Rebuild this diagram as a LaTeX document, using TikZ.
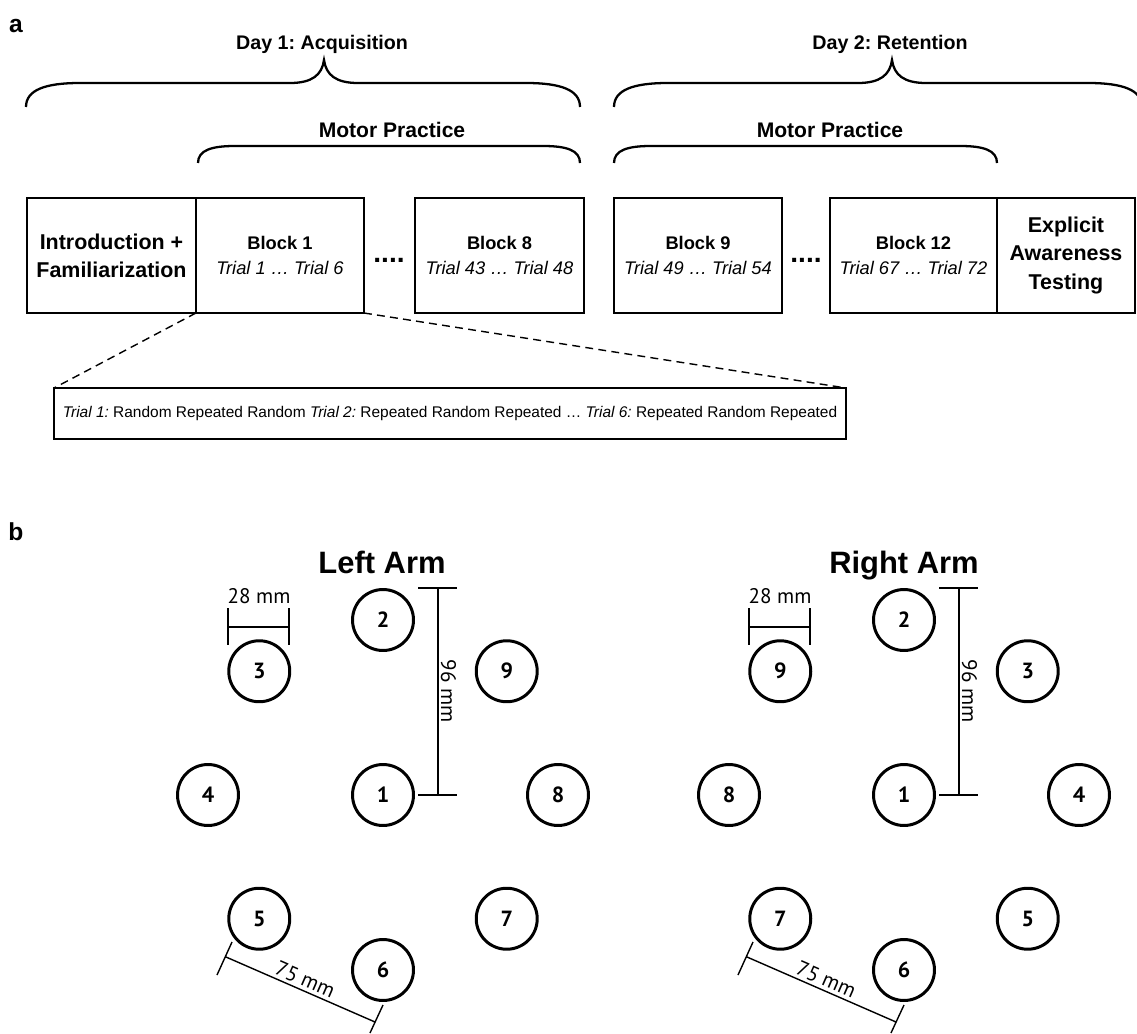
\documentclass[tikz,border=0pt]{standalone}
\usepackage{fontspec}
\setmainfont{Liberation Sans}
\newfontfamily\dimfont{PT Sans}
\usetikzlibrary{positioning}
\frenchspacing

\begin{document}
\begin{tikzpicture}[x=0.02cm, y=-0.02cm,
    stage/.style={draw, line width=1.6pt, outer sep=0pt, inner sep=2pt, minimum height=2.3cm, align=center},
    blocktext/.style={font=\fontsize{10.4}{13.7}\selectfont},
    bigtext/.style={font=\fontsize{12.2}{16}\selectfont\bfseries},
    daytitle/.style={font=\fontsize{11.2}{13}\selectfont\bfseries, anchor=base},
    mptitle/.style={font=\fontsize{12}{14}\selectfont\bfseries, anchor=base},
    armtitle/.style={font=\fontsize{17.6}{20}\selectfont\bfseries, anchor=base},
    panel/.style={font=\fontsize{14}{14}\selectfont\bfseries, anchor=base},
    brace/.style={line width=1.3pt},
    link/.style={line width=0.8pt, dash pattern=on 4.5pt off 3pt},
    target/.style={draw, circle, line width=1.7pt, minimum size=1.22cm, inner sep=0pt, outer sep=0pt, font=\dimfont\fontsize{12.5}{14}\selectfont\bfseries},
    dim/.style={line width=0.8pt},
    dimlabel/.style={font=\dimfont\fontsize{12}{14}\selectfont, inner sep=1.5pt}]
    \useasboundingbox (0,0) rectangle (1137,1034);

    % panel a
    \node[panel] (pa) at (16,33) {a};

    \node[stage, minimum width=3.38cm, bigtext] (intro) at (111.5,255.5) {Introduction +\\Familiarization};
    \node[stage, minimum width=3.36cm, blocktext, right=0pt of intro] (b1) {\textbf{Block 1}\\\textit{Trial 1 … Trial 6}};
    \node[stage, minimum width=3.38cm, blocktext] (b8) at (499.5,255.5) {\textbf{Block 8}\\\textit{Trial 43 … Trial 48}};
    \node[stage, minimum width=3.36cm, blocktext] (b9) at (698,255.5) {\textbf{Block 9}\\\textit{Trial 49 … Trial 54}};
    \node[stage, minimum width=3.34cm, blocktext] (b12) at (913.5,255.5) {\textbf{Block 12}\\\textit{Trial 67 … Trial 72}};
    \node[stage, minimum width=2.76cm, bigtext, right=0pt of b12] (expl) {Explicit\\Awareness\\Testing};

    \node[font=\fontsize{16}{16}\selectfont\bfseries, anchor=base] (gapA) at (389,262) {....};
    \node[font=\fontsize{16}{16}\selectfont\bfseries, anchor=base] (gapB) at (806,262) {....};

    \node[draw, line width=0.9pt, outer sep=0pt, minimum width=15.84cm, minimum height=1.02cm, font=\fontsize{8.8}{10}\selectfont] (trials) at (450,413.5)
        {\textit{Trial 1:} Random Repeated Random \textit{Trial 2:} Repeated Random Repeated … \textit{Trial 6:} Repeated Random Repeated};

    \draw[link] (b1.south west) -- (trials.north west);
    \draw[link] (b1.south east) -- (trials.north east);

    % braces
    \node[daytitle] (day1) at (322,50) {Day 1: Acquisition};
    \node[daytitle] (day2) at (890,50) {Day 2: Retention};
    \node[mptitle] (mp1) at (392,138) {Motor Practice};
    \node[mptitle] (mp2) at (830,138) {Motor Practice};

    \draw[brace] (26,107) .. controls (26,90) and (45,83) .. (80,83) -- (290,83)
        .. controls (312,83) and (322,75) .. (324,60) .. controls (326,75) and (336,83) .. (358,83)
        -- (526,83) .. controls (561,83) and (580,90) .. (580,107);
    \draw[brace] (614,107) .. controls (614,90) and (633,83) .. (668,83) -- (858,83)
        .. controls (880,83) and (890,75) .. (892,60) .. controls (894,75) and (904,83) .. (926,83)
        -- (1088,83) .. controls (1123,83) and (1142,90) .. (1142,107);
    \draw[brace] (198,163) .. controls (198,150) and (212,146) .. (235,146) -- (543,146)
        .. controls (566,146) and (580,150) .. (580,163);
    \draw[brace] (614,163) .. controls (614,150) and (628,146) .. (651,146) -- (960,146)
        .. controls (983,146) and (997,150) .. (997,163);

    % panel b
    \node[panel] (pb) at (16,540) {b};

    \begin{scope}[shift={(383,795)}]
        \node[armtitle] (leftarm) at (-1,-222) {Left Arm};
        \node[target] (L1) at (0,0) {1};
        \foreach \n/\a in {2/90,3/135,4/180,5/225,6/270,7/315,8/0,9/45}
            \node[target] (L\n) at (-\a:175) {\n};

        \draw[dim] (-155,-187) -- (-155,-150) (-94,-187) -- (-94,-150) (-155,-168) -- (-94,-168);
        \node[dimlabel, anchor=base] at (-124,-192) {28 mm};

        \draw[dim] (55,-207) -- (55,0) (35,-207) -- (74,-207) (35,0) -- (74,0);
        \node[dimlabel, rotate=-90, anchor=south] at (55,-104) {96 mm};

        \draw[dim] (-166,180) -- (-151,147) (-157,162) -- (-8,227) (-13,238) -- (0,210);
        \node[dimlabel, rotate=-23.6, anchor=south] at (-82,194) {75 mm};
    \end{scope}

    \begin{scope}[shift={(904,795)}]
        \node[armtitle] (rightarm) at (0,-222) {Right Arm};
        \node[target] (R1) at (0,0) {1};
        \foreach \n/\a in {2/90,3/45,4/0,5/-45,6/-90,7/-135,8/180,9/135}
            \node[target] (R\n) at (-\a:175) {\n};

        \draw[dim] (-155,-187) -- (-155,-150) (-94,-187) -- (-94,-150) (-155,-168) -- (-94,-168);
        \node[dimlabel, anchor=base] at (-124,-192) {28 mm};

        \draw[dim] (55,-207) -- (55,0) (35,-207) -- (74,-207) (35,0) -- (74,0);
        \node[dimlabel, rotate=-90, anchor=south] at (55,-104) {96 mm};

        \draw[dim] (-166,180) -- (-151,147) (-157,162) -- (-8,227) (-13,238) -- (0,210);
        \node[dimlabel, rotate=-23.6, anchor=south] at (-82,194) {75 mm};
    \end{scope}
\end{tikzpicture}
\end{document}
